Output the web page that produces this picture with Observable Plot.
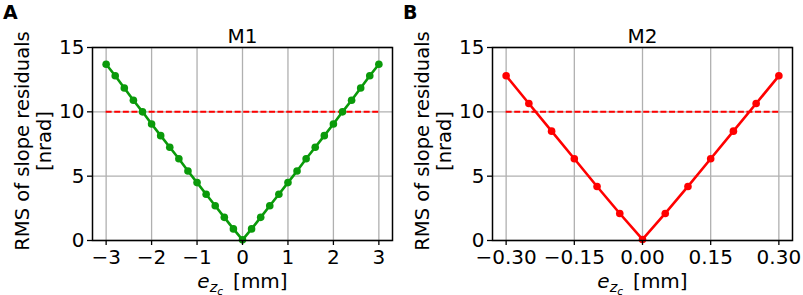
<!DOCTYPE html>
<html>
<head>
<meta charset="utf-8">
<script src="https://cdn.jsdelivr.net/npm/d3@7"></script>
<script src="https://cdn.jsdelivr.net/npm/@observablehq/plot@0.6"></script>
<style>
  html, body { margin: 0; padding: 0; background: #fff; }
  #wrap { position: relative; width: 803px; height: 295px; font-family: "DejaVu Sans", sans-serif; }
  .panel { position: absolute; top: 0; }
  .letter { position: absolute; top: 1px; line-height: 1; font: bold 19px "DejaVu Sans", sans-serif; }
</style>
</head>
<body>
<div id="wrap"></div>
<script>
// ---- data ----
const m1X = [-3, -2.8, -2.6, -2.4, -2.2, -2.0, -1.8, -1.6, -1.4, -1.2, -1.0, -0.8, -0.6, -0.4, -0.2, 0,
             0.2, 0.4, 0.6, 0.8, 1.0, 1.2, 1.4, 1.6, 1.8, 2.0, 2.2, 2.4, 2.6, 2.8, 3];
const m1Y = [13.7, 12.8, 11.85, 10.9, 10.0, 9.05, 8.15, 7.25, 6.35, 5.4, 4.5, 3.6, 2.7, 1.8, 0.9, 0.05,
             0.9, 1.8, 2.7, 3.6, 4.5, 5.4, 6.35, 7.25, 8.15, 9.05, 10.0, 10.9, 11.85, 12.8, 13.7];
const m2X = [-0.30, -0.25, -0.20, -0.15, -0.10, -0.05, 0, 0.05, 0.10, 0.15, 0.20, 0.25, 0.30];
const m2Y = [12.8, 10.65, 8.5, 6.35, 4.2, 2.1, 0.08, 2.1, 4.2, 6.35, 8.5, 10.65, 12.8];
const threshold = 10;
const yTicks = [0, 5, 10, 15];
const m1Ticks = [-3, -2, -1, 0, 1, 2, 3];
const m2Ticks = [-0.30, -0.15, 0, 0.15, 0.30];
const titles = ["M1", "M2"];
const letters = ["A", "B"];
const yLabel = "RMS of slope residuals\n[nrad]";

const FS = 20;
const wrap = document.getElementById("wrap");

function panel(xs, ys, color, xTicks, xDomain, xFmt, title, width) {
  const data = xs.map((x, i) => ({x, y: ys[i]}));
  const xmin = d3.min(xs), xmax = d3.max(xs);
  const svg = Plot.plot({
    width, height: 295,
    marginLeft: 92, marginRight: width - 92 - 300, marginTop: 47, marginBottom: 55,
    style: {fontFamily: "DejaVu Sans, sans-serif", fontSize: FS + "px", color: "black", background: "white", overflow: "visible"},
    x: {domain: xDomain, ticks: xTicks, tickFormat: xFmt, label: null},
    y: {domain: [0, 15], ticks: yTicks, label: null},
    marks: [
      Plot.gridX(xTicks, {stroke: "#b0b0b0", strokeOpacity: 1, strokeWidth: 1.3}),
      Plot.gridY(yTicks, {stroke: "#b0b0b0", strokeOpacity: 1, strokeWidth: 1.3}),
      Plot.ruleY([threshold], {x1: xmin, x2: xmax, stroke: "#ff0000", strokeWidth: 2, strokeDasharray: "6,2.6"}),
      Plot.line(data, {x: "x", y: "y", stroke: color, strokeWidth: 2.6}),
      Plot.dot(data, {x: "x", y: "y", fill: color, r: 3.8, stroke: "none"}),
      Plot.frame({stroke: "black", strokeWidth: 1.5}),
      Plot.axisX(xTicks, {tickFormat: xFmt, tickSize: 5, tickPadding: 4, fontSize: FS, fill: "black", strokeWidth: 1.3, label: null}),
      Plot.axisY(yTicks, {tickSize: 5, tickPadding: 3, fontSize: FS, fill: "black", strokeWidth: 1.3, label: null}),
      Plot.text([title], {frameAnchor: "top", dy: -5, lineAnchor: "bottom", fontSize: FS, fill: "black"}),
      Plot.text([yLabel], {frameAnchor: "left", dx: -60, dy: -3, rotate: -90, textAnchor: "middle", lineAnchor: "middle", lineHeight: 1.14, fontSize: 19.5, fill: "black"}),
      Plot.text(["XLABEL"], {frameAnchor: "bottom", dy: 47, lineAnchor: "bottom", fontSize: FS, fill: "black"})
    ]
  });
  // build subscripted x label as real text
  d3.select(svg).selectAll("text").filter(function() { return this.textContent === "XLABEL"; })
    .each(function() {
      const t = d3.select(this);
      t.text(null);
      t.append("tspan").attr("font-style", "italic").text("e");
      t.append("tspan").attr("font-style", "italic").attr("font-size", "14.5px").attr("dy", "4").text("z");
      t.append("tspan").attr("font-style", "italic").attr("font-size", "10.5px").attr("dy", "3").text("c");
      t.append("tspan").attr("dy", "-7").text("\u2002[mm]");
    });
  return svg;
}

const fmt1 = d3.format("d");
const fmt2 = d3.format(".2f");
const specs = [
  {xs: m1X, ys: m1Y, color: "#0a9a0a", ticks: m1Ticks, dom: [-3.3, 3.3], fmt: fmt1, left: 0, width: 400},
  {xs: m2X, ys: m2Y, color: "#ff0000", ticks: m2Ticks, dom: [-0.33, 0.33], fmt: fmt2, left: 400, width: 403}
];
specs.forEach((s, i) => {
  const div = document.createElement("div");
  div.className = "panel";
  div.style.left = s.left + "px";
  div.appendChild(panel(s.xs, s.ys, s.color, s.ticks, s.dom, s.fmt, titles[i], s.width));
  wrap.appendChild(div);
  const L = document.createElement("div");
  L.className = "letter";
  L.style.left = (s.left + 3) + "px";
  L.textContent = letters[i];
  wrap.appendChild(L);
});
</script>
</body>
</html>
